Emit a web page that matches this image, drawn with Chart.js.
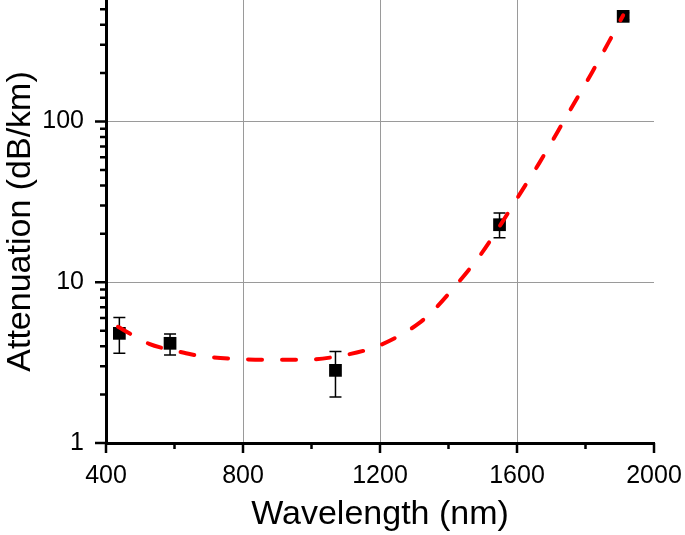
<!DOCTYPE html>
<html>
<head>
<meta charset="utf-8">
<script src="https://cdn.jsdelivr.net/npm/chart.js@4"></script>
<style>
  html, body { margin: 0; padding: 0; background: #fff; }
  canvas { display: block; }
</style>
</head>
<body>
<canvas id="chart" width="685" height="535"></canvas>
<script>
// measured points
const wavelengths = [439, 587, 1070, 1549, 1910];
const attenuation = [4.81, 4.17, 2.83, 22.8, 451];
const errLow  = [3.62, 3.53, 1.93, 18.9, 430];
const errHigh = [6.04, 4.76, 3.71, 27.0, 475];

// fitted curve
const fitX = [435, 476, 526, 575, 628, 674, 777, 879, 981, 1083, 1180, 1267, 1311, 1346, 1413, 1498, 1556, 1609, 1664, 1746, 1819, 1869, 1910];
const fitY = [5.28, 4.71, 4.14, 3.85, 3.64, 3.48, 3.34, 3.29, 3.29, 3.48, 3.91, 4.78, 5.51, 6.36, 9.11, 15.3, 23.5, 35.6, 54.7, 109, 202, 315, 458];

const xTicks = [400, 600, 800, 1000, 1200, 1400, 1600, 1800, 2000];
const xLabels = [400, 800, 1200, 1600, 2000];
const yTicks = [1,2,3,4,5,6,7,8,9,10,20,30,40,50,60,70,80,90,100,200,300,400,500];
const yLabels = [1, 10, 100];

const FONT = '"Liberation Sans", Arial, sans-serif';

// error bars under the points
const errorBars = {
    id: 'errorBars',
    beforeDatasetsDraw(chart) {
        const ctx = chart.ctx;
        const xs = chart.scales.x, ys = chart.scales.y;
        ctx.save();
        ctx.strokeStyle = '#000';
        ctx.lineWidth = 1.5;
        wavelengths.forEach((w, i) => {
            const px = xs.getPixelForValue(w);
            const top = ys.getPixelForValue(errHigh[i]);
            const bot = ys.getPixelForValue(errLow[i]);
            ctx.beginPath();
            ctx.moveTo(px, top); ctx.lineTo(px, bot);
            ctx.moveTo(px - 6, top); ctx.lineTo(px + 6, top);
            ctx.moveTo(px - 6, bot); ctx.lineTo(px + 6, bot);
            ctx.stroke();
        });
        ctx.restore();
    }
};

// outward tick marks, major and minor
const tickMarks = {
    id: 'tickMarks',
    afterDraw(chart) {
        const ctx = chart.ctx;
        const xs = chart.scales.x, ys = chart.scales.y;
        const area = chart.chartArea;
        ctx.save();
        ctx.strokeStyle = '#000';
        ctx.lineWidth = 2.5;
        ctx.beginPath();
        xTicks.forEach(v => {
            const px = xs.getPixelForValue(v);
            const len = xLabels.includes(v) ? 10 : 6;
            ctx.moveTo(px, area.bottom); ctx.lineTo(px, area.bottom + len);
        });
        yTicks.forEach(v => {
            const py = ys.getPixelForValue(v);
            const len = yLabels.includes(v) ? 11 : 6;
            ctx.moveTo(area.left, py); ctx.lineTo(area.left - len, py);
        });
        ctx.stroke();
        ctx.restore();
    }
};

new Chart(document.getElementById('chart'), {
    type: 'line',
    data: {
        datasets: [
            {
                label: 'Fit',
                data: fitX.map((x, i) => ({ x: x, y: fitY[i] })),
                borderColor: '#ff0000',
                borderWidth: 4,
                borderDash: [14, 20],
                borderCapStyle: 'round',
                pointRadius: 0,
                cubicInterpolationMode: 'monotone',
                fill: false
            },
            {
                label: 'Measured',
                data: wavelengths.map((x, i) => ({ x: x, y: attenuation[i] })),
                showLine: false,
                pointStyle: 'rect',
                pointRadius: 9,
                pointBackgroundColor: '#000',
                pointBorderColor: '#000',
                pointBorderWidth: 0
            }
        ]
    },
    options: {
        responsive: false,
        animation: false,
        events: [],
        clip: false,
        layout: { autoPadding: false, padding: { left: 0, right: 31, top: 0, bottom: 0 } },
        plugins: { legend: { display: false }, tooltip: { enabled: false } },
        scales: {
            x: {
                type: 'linear',
                min: 400,
                max: 2000,
                afterFit: s => { s.height = 92; s.paddingLeft = 0; s.paddingRight = 0; },
                afterBuildTicks: s => { s.ticks = xTicks.map(v => ({ value: v })); },
                ticks: {
                    autoSkip: false,
                    maxRotation: 0,
                    padding: 18,
                    color: '#000',
                    font: { family: FONT, size: 25 },
                    callback: v => xLabels.includes(v) ? String(v) : ''
                },
                grid: {
                    drawTicks: false,
                    lineWidth: 1,
                    color: c => (c.tick && [800, 1200, 1600].includes(c.tick.value)) ? '#9a9a9a' : 'rgba(0,0,0,0)'
                },
                border: { display: true, color: '#000', width: 3 },
                title: {
                    display: true,
                    text: 'Wavelength (nm)',
                    color: '#000',
                    font: { family: FONT, size: 34 },
                    padding: { top: 0, bottom: 0 }
                }
            },
            y: {
                type: 'logarithmic',
                min: 1,
                max: 570,
                afterFit: s => { s.width = 106; s.paddingTop = 0; s.paddingBottom = 0; },
                afterBuildTicks: s => { s.ticks = yTicks.map(v => ({ value: v })); },
                ticks: {
                    autoSkip: false,
                    padding: 22,
                    color: '#000',
                    font: { family: FONT, size: 25 },
                    callback: v => yLabels.includes(v) ? String(v) : ''
                },
                grid: {
                    drawTicks: false,
                    lineWidth: 1,
                    color: c => (c.tick && [10, 100].includes(c.tick.value)) ? '#9a9a9a' : 'rgba(0,0,0,0)'
                },
                border: { display: true, color: '#000', width: 3 },
                title: {
                    display: true,
                    text: 'Attenuation (dB/km)',
                    color: '#000',
                    font: { family: FONT, size: 34 },
                    padding: { top: 0, bottom: 0 }
                }
            }
        }
    },
    plugins: [errorBars, tickMarks]
});
</script>
</body>
</html>
